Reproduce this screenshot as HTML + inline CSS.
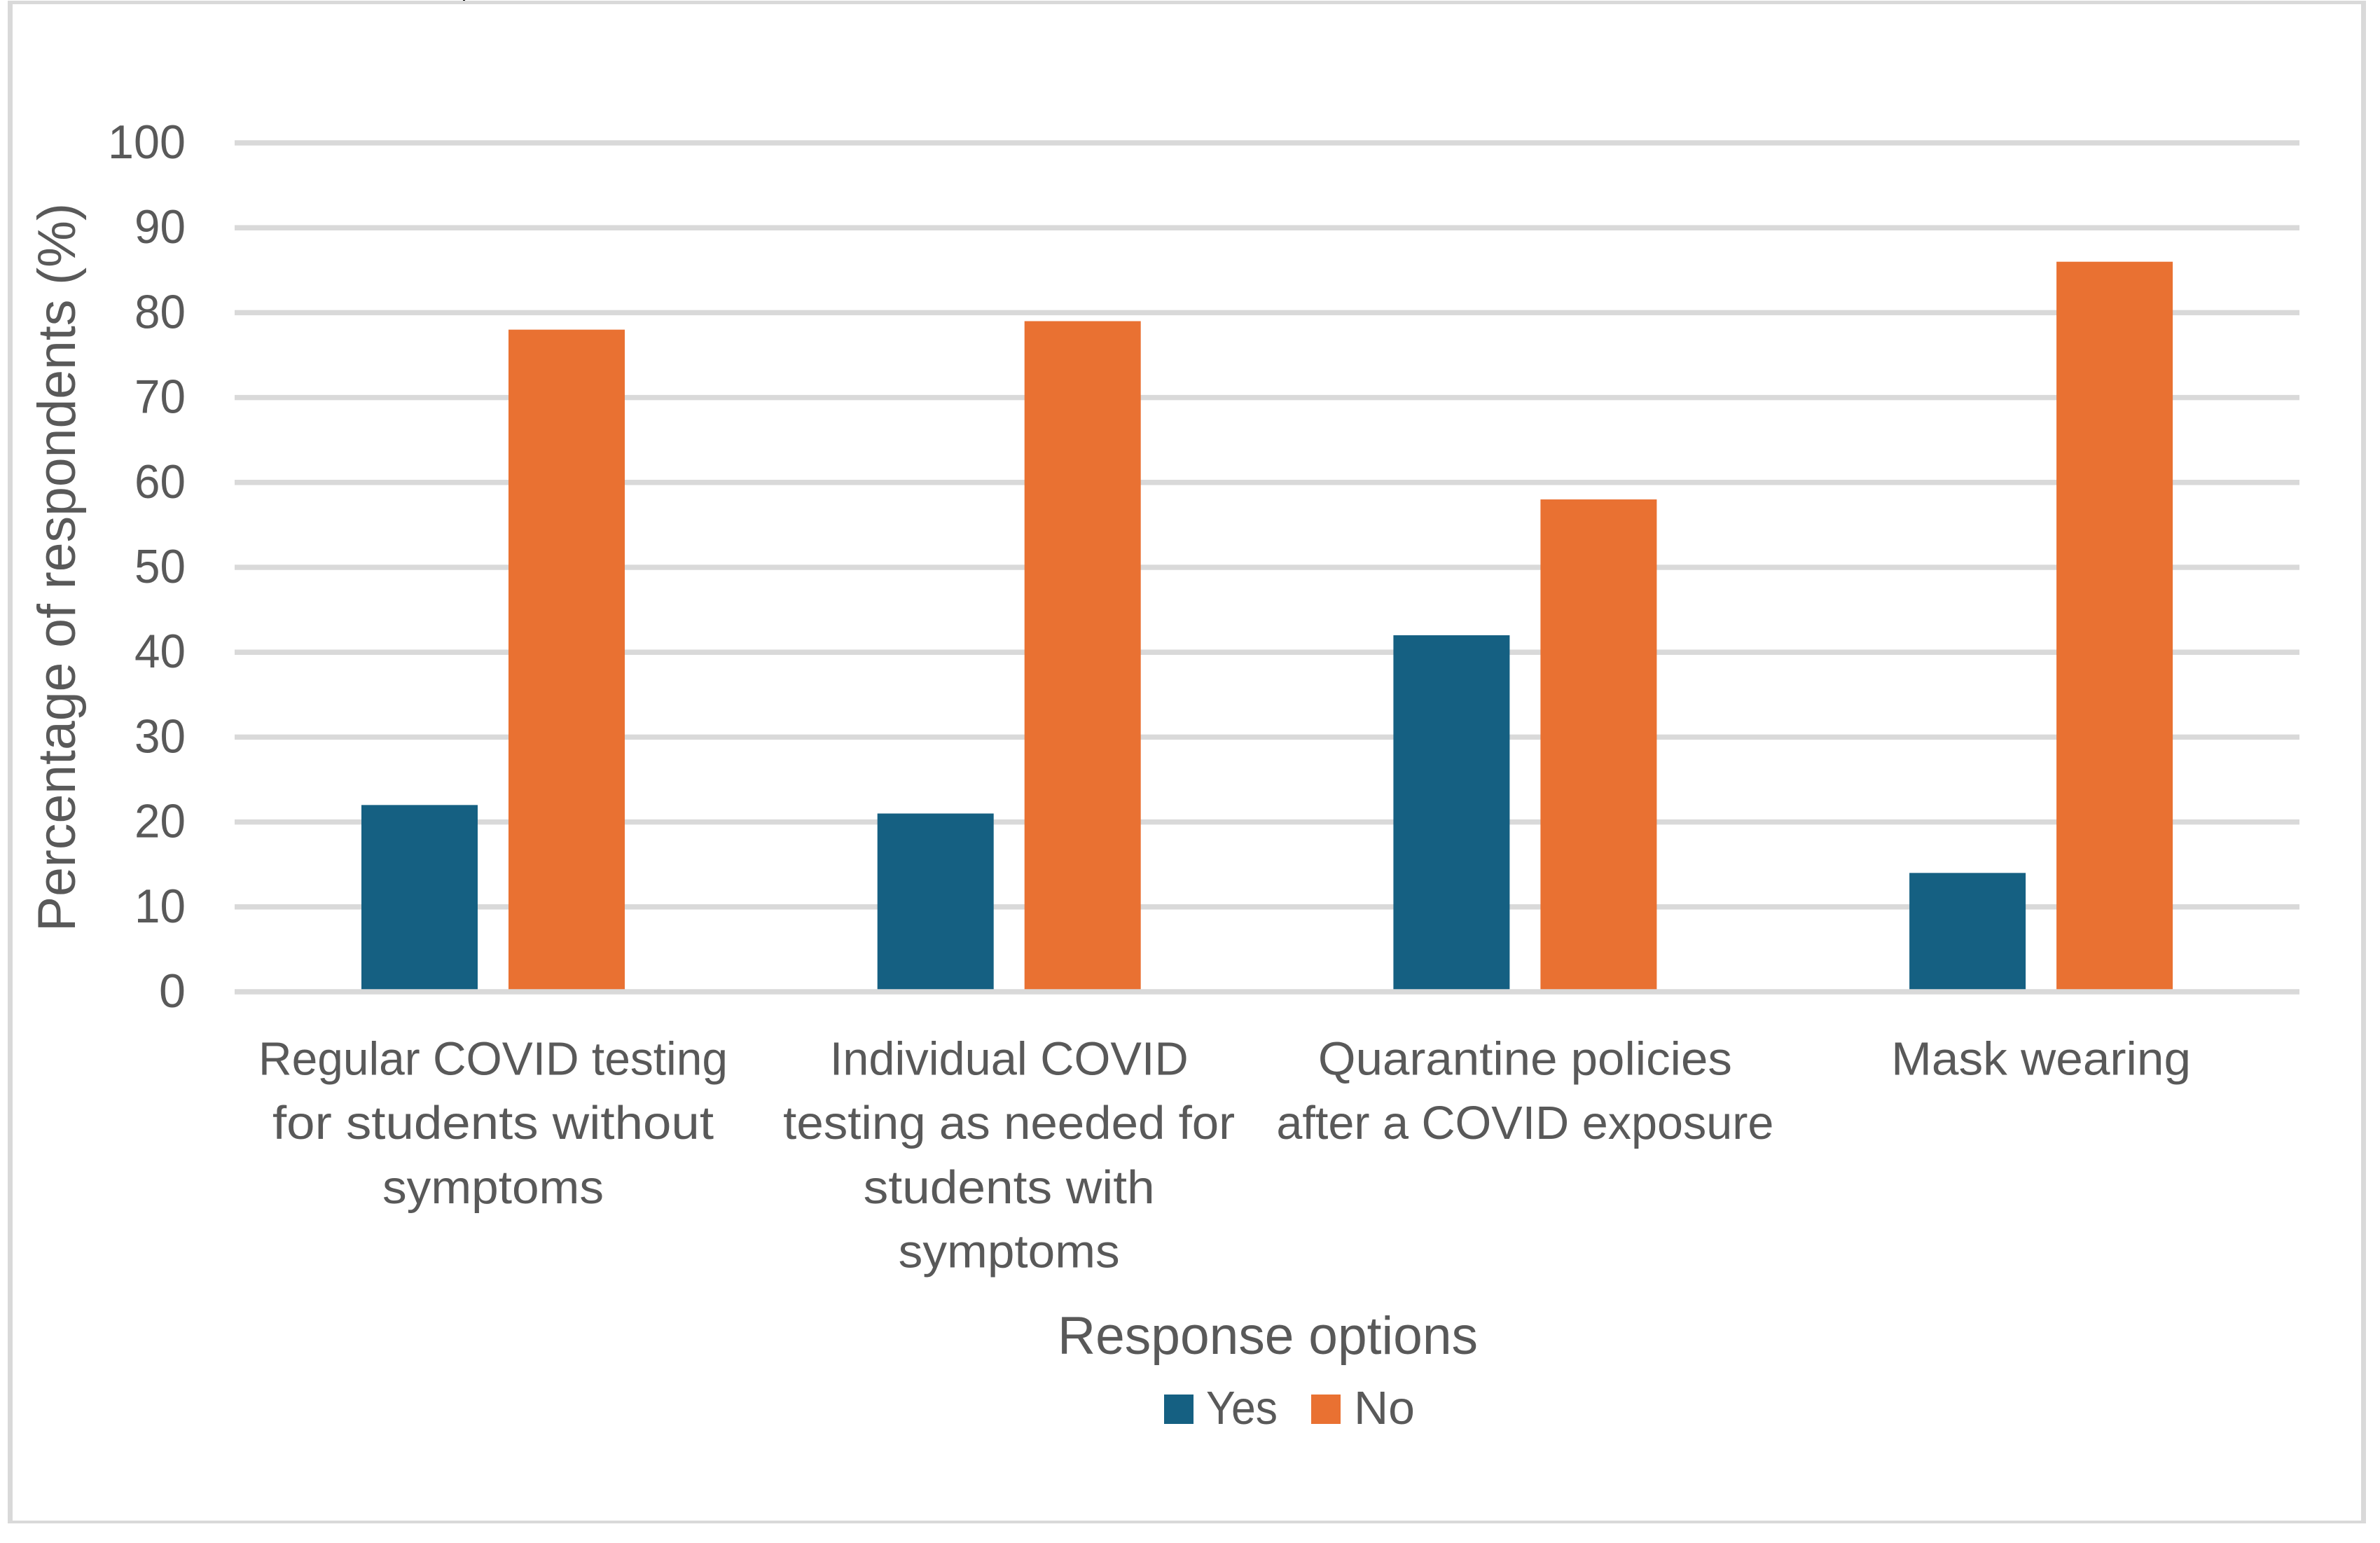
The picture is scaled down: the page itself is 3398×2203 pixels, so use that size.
<!DOCTYPE html>
<html lang="en">
<head>
<meta charset="utf-8">
<title>Percentage of respondents by response option</title>
<style>
html,body{margin:0;padding:0;background:#fff;width:3398px;height:2203px;overflow:hidden}
svg{display:block}
text{font-family:"Liberation Sans",sans-serif;fill:#595959}
</style>
</head>
<body>
<svg id="chart" xmlns="http://www.w3.org/2000/svg" width="3398" height="2203" viewBox="0 0 3398 2203">
  <rect x="0" y="0" width="3398" height="2203" fill="#ffffff"/>
  <rect x="11" y="1" width="3367" height="5" fill="#d9d9d9"/>
  <rect x="11" y="1" width="7" height="2174" fill="#d9d9d9"/>
  <rect x="3371" y="1" width="7" height="2174" fill="#d9d9d9"/>
  <rect x="11" y="2171" width="3367" height="4" fill="#d9d9d9"/>
  <rect x="661" y="0" width="3" height="1" fill="#000000"/>
  <g id="grid"></g>
  <g id="ticks"></g>
  <g id="bars"></g>
  <g id="baseline"></g>
  <g id="cats"></g>
  <text transform="translate(107 810) rotate(-90)" text-anchor="middle" font-size="76" textLength="1040" lengthAdjust="spacingAndGlyphs">Percentage of respondents (%)</text>
  <text x="1810" y="1933" text-anchor="middle" font-size="76" textLength="600" lengthAdjust="spacingAndGlyphs">Response options</text>
  <g>
    <rect x="1662" y="1991" width="42" height="42" fill="#156082"/>
    <text x="1722" y="2033" font-size="67" textLength="102" lengthAdjust="spacingAndGlyphs">Yes</text>
    <rect x="1872" y="1991" width="42" height="42" fill="#E97132"/>
    <text x="1933" y="2033" font-size="67" textLength="87" lengthAdjust="spacingAndGlyphs">No</text>
  </g>
</svg>
<script>
const categories = [
  ["Regular COVID testing", "for students without", "symptoms"],
  ["Individual COVID", "testing as needed for", "students with", "symptoms"],
  ["Quarantine policies", "after a COVID exposure"],
  ["Mask wearing"]
];
const yesValues = [22, 21, 42, 14];
const noValues = [78, 79, 58, 86];
const yTicks = [0, 10, 20, 30, 40, 50, 60, 70, 80, 90, 100];

/* Layout, kept apart from the data */
const NS = "http://www.w3.org/2000/svg";
const plotLeft = 335, plotRight = 3283, y0 = 1416, pxPerUnit = 12.12;
const barW = 166, barGap = 44, firstCenter = 704, catStep = 736.7;
const lineWidths = {
  "Regular COVID testing": 670, "for students without": 630, "symptoms": 316,
  "Individual COVID": 512, "testing as needed for": 645, "students with": 416,
  "Quarantine policies": 591, "after a COVID exposure": 710, "Mask wearing": 428
};
const tickWidths = { 1: 38, 2: 73, 3: 111 };

function yScale(v) { return y0 - v * pxPerUnit; }
function xCenter(i) { return firstCenter + i * catStep; }
function slug(s) { return s.toLowerCase().replace(/[^a-z0-9]+/g, "-"); }

const gridG = document.getElementById("grid");
const tickG = document.getElementById("ticks");
const barG = document.getElementById("bars");
const baseG = document.getElementById("baseline");
const catG = document.getElementById("cats");

yTicks.forEach(function (t) {
  const line = document.createElementNS(NS, "rect");
  line.setAttribute("x", plotLeft);
  line.setAttribute("y", yScale(t) - 3.75);
  line.setAttribute("width", plotRight - plotLeft);
  line.setAttribute("height", 7.5);
  line.setAttribute("fill", "#d9d9d9");
  
  
  (t === 0 ? baseG : gridG).appendChild(line);

  const label = document.createElementNS(NS, "text");
  const str = String(t);
  label.setAttribute("x", 265);
  label.setAttribute("y", yScale(t) + 22);
  label.setAttribute("text-anchor", "end");
  label.setAttribute("font-size", 68);
  label.setAttribute("textLength", tickWidths[str.length]);
  label.setAttribute("lengthAdjust", "spacingAndGlyphs");
  
  
  label.textContent = str;
  tickG.appendChild(label);
});

function drawBar(i, v, offset, color, seriesName) {
  const r = document.createElementNS(NS, "rect");
  r.setAttribute("x", xCenter(i) + offset);
  r.setAttribute("y", yScale(v));
  r.setAttribute("width", barW);
  r.setAttribute("height", yScale(0) - yScale(v));
  r.setAttribute("fill", color);
  
  
  barG.appendChild(r);
}

categories.forEach(function (lines, i) {
  drawBar(i, yesValues[i], -barW - barGap / 2, "#156082", "yes");
  drawBar(i, noValues[i], barGap / 2, "#E97132", "no");
  lines.forEach(function (txt, j) {
    const t = document.createElementNS(NS, "text");
    t.setAttribute("x", xCenter(i));
    t.setAttribute("y", 1534.5 + j * 91.7);
    t.setAttribute("text-anchor", "middle");
    t.setAttribute("font-size", 67);
    t.setAttribute("textLength", lineWidths[txt]);
    t.setAttribute("lengthAdjust", "spacingAndGlyphs");
    
    
    t.textContent = txt;
    catG.appendChild(t);
  });
});
</script>
</body>
</html>
